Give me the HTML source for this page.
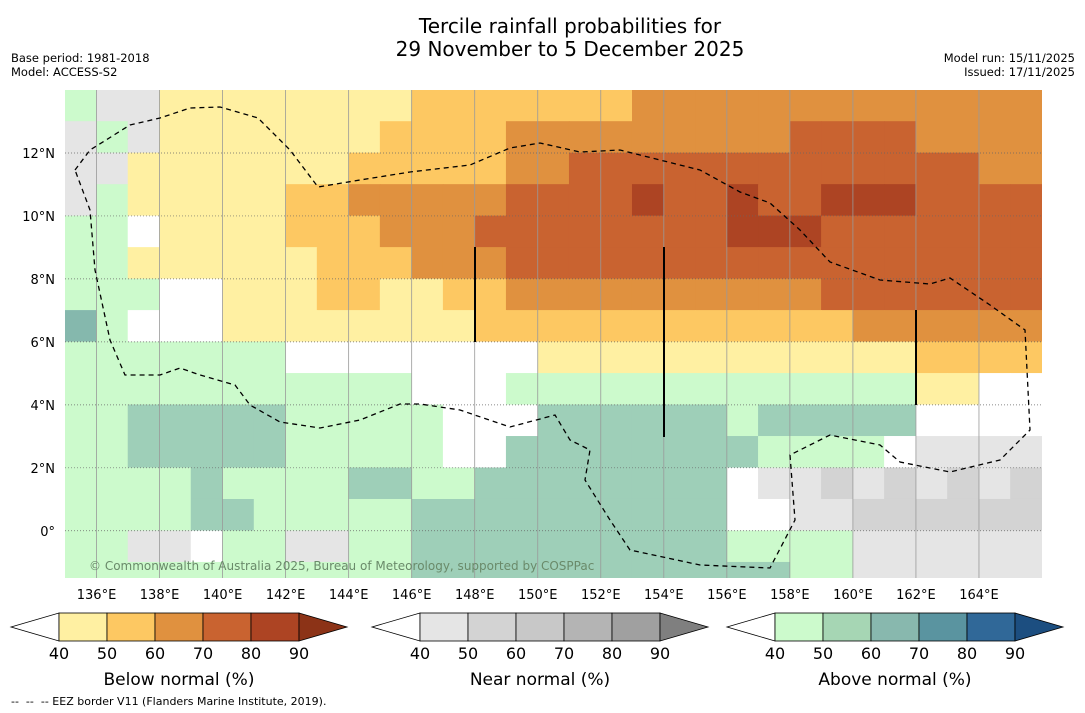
<!DOCTYPE html>
<html><head><meta charset="utf-8"><style>
body{margin:0;background:#fff;font-family:"DejaVu Sans","Liberation Sans",sans-serif}
#wrap{position:relative;width:1085px;height:713px;overflow:hidden;background:#fff}
.t{position:absolute;font-size:12px;color:#000;white-space:nowrap}
svg text{font-family:"DejaVu Sans","Liberation Sans",sans-serif}
</style></head><body>
<div id="wrap">
<div class="t" style="left:0;width:1140px;text-align:center;top:15px;font-size:20px;line-height:23px">Tercile rainfall probabilities for<br>29 November to 5 December 2025</div>
<div class="t" style="left:11px;top:51px;font-size:11.5px">Base period: 1981-2018<br>Model: ACCESS-S2</div>
<div class="t" style="right:10px;top:51px;text-align:right;font-size:11.5px">Model run: 15/11/2025<br>Issued: 17/11/2025</div>
<svg id="svg" width="1085" height="713" style="position:absolute;left:0;top:0"></svg>
<div class="t" style="left:11px;top:695px;font-size:11px">-- &nbsp;-- &nbsp;-- EEZ border V11 (Flanders Marine Institute, 2019).</div>
</div>
<script>
const lons=[135,136,137,138,139,140,141,142,143,144,145,146,147,148,149,150,151,152,153,154,155,156,157,158,159,160,161,162,163,164,165];
const lats=[13,12,11,10,9,8,7,6,5,4,3,2,1,0,-1,-2];
const rows=[
"pggaaaaaaaabbbbbbbccccccccccccc",
"gpgaaaaaaabbbbcccccccccddddcccc",
"ggaaaaaaabbbbbccdddddddddddddcc",
"gpaaaaabbcccccddddeddeddeeedddd",
"ppwaaaabbbcccddddddddeeeddddddd",
"ppaaaaaabbbcccddddddddddddddddd",
"pppwwaaabbaabbccccccccccddddddd",
"rpwwwaaaaaaaabbbbbbbbbbbbcccccc",
"pppppppwwwwwwwwaaaaaaaaaaaabbbb",
"pppppppppppwwwpppppppppppppaaww",
"ppqqqqqpppppwwwqqqqqqpqqqqqwwww",
"ppqqqqqpppppwwqqqqqqqqppppwgggg",
"ppppqppppqqppqqqqqqqqwgghghghgh",
"ppppqqpppppqqqqqqqqqqwwgghhhhhh",
"ppggwppggppqqqqqqqqqqppppgggggg",
"pppppppppppqqqqqqqqqqqqppgggggg"];
const catColor={a:'#fff0a2',b:'#fdc862',c:'#e0913f',d:'#c96330',e:'#ad4423',g:'#e5e5e5',h:'#d3d3d3',p:'#ccfacc',q:'#9ecfb8',r:'#85b8ad',s:'#5a94a0',w:'#ffffff'};
const xTicks=[136,138,140,142,144,146,148,150,152,154,156,158,160,162,164];
const yTicks=[12,10,8,6,4,2,0];
const cb1=['#fff0a2','#fdc862','#e0913f','#c96330','#ad4423'];
const cb2=['#e5e5e5','#d3d3d3','#c8c8c8','#b4b4b4','#a0a0a0'];
const cb3=['#ccfacc','#a6d6b4','#88b8ae','#5a94a0','#306898'];
const cbLabels=[40,50,60,70,80,90];
const X0=65,X1=1042,Y0=90,Y1=578;
const lon2x=l=>X0+(l-135)*(X1-X0)/31;
const lat2y=l=>Y0+(14-l)*(Y1-Y0)/15.5;
const NS='http://www.w3.org/2000/svg';
const svg=document.getElementById('svg');
function mk(t,a,p){const e=document.createElementNS(NS,t);for(const k in a)e.setAttribute(k,a[k]);(p||svg).appendChild(e);return e;}
const defs=mk('defs',{});const cp=mk('clipPath',{id:'cp'},defs);mk('rect',{x:X0,y:Y0,width:X1-X0,height:Y1-Y0},cp);
const g=mk('g',{'clip-path':'url(#cp)'});


lats.forEach((la,i)=>{const r=rows[i];lons.forEach((lo,j)=>{const c=r[j]||'w';
const e=mk('rect',{x:lon2x(lo)-0.3,y:lat2y(la+1)-0.3,width:lon2x(lo+1)-lon2x(lo)+0.6,height:lat2y(la)-lat2y(la+1)+0.6,fill:catColor[c]},g);

});});
xTicks.forEach(t=>{const x=lon2x(t);
const l=mk('line',{x1:x,x2:x,y1:Y0,y2:Y1,stroke:'#999','stroke-width':0.8});

const tx=mk('text',{x:x,y:599,'text-anchor':'middle','font-size':13,fill:'#000'});tx.textContent=t+'°E';
});
yTicks.forEach(t=>{const y=lat2y(t);
const l=mk('line',{x1:X0,x2:X1,y1:y,y2:y,stroke:'#666','stroke-width':0.7,'stroke-dasharray':'1,2'});

const tx=mk('text',{x:55,y:y+5,'text-anchor':'end','font-size':13,fill:'#000'});tx.textContent=t===0?'0°':t+'°N';
});
const eez=mk('path',{d:'M75,170 L90,150 130,125 160,118 190,108 220,107 258,118 290,150 318,187 360,180 410,172 470,165 510,148 540,143 580,152 620,150 660,160 700,170 740,192 770,203 800,230 830,262 880,280 930,284 950,278 990,305 1025,330 1030,430 1000,460 950,472 900,462 880,445 830,435 790,455 795,520 770,568 700,565 630,550 610,520 585,480 590,450 570,440 555,415 510,427 460,410 420,404 400,404 360,420 320,428 280,422 250,405 235,385 200,375 180,368 160,375 125,375 110,340 95,270 90,210 Z',fill:'none',stroke:'#000','stroke-width':1.3,'stroke-dasharray':'5,4'});

[[475,247,342],[664,247,437],[916,310,405]].forEach(v=>{const l=mk('line',{x1:v[0],x2:v[0],y1:v[1],y2:v[2],stroke:'#000','stroke-width':2});
});
const cr=mk('text',{x:89,y:570,'font-size':12,fill:'#6a8a6a'});cr.textContent='© Commonwealth of Australia 2025, Bureau of Meteorology, supported by COSPPac';

function colorbar(x0,cols,tri,title,name){const w=48,y=613,h=28;
mk('polygon',{points:`${x0-w},${y+h/2} ${x0},${y} ${x0},${y+h}`,fill:'#fff',stroke:'#000','stroke-width':0.8});
cols.forEach((c,i)=>{const r=mk('rect',{x:x0+i*w,y:y,width:w,height:h,fill:c,stroke:'#000','stroke-width':0.8});
});
const xe=x0+cols.length*w;
mk('polygon',{points:`${xe},${y} ${xe+w},${y+h/2} ${xe},${y+h}`,fill:tri,stroke:'#000','stroke-width':0.8});
cbLabels.forEach((v,i)=>{const t=mk('text',{x:x0+i*w,y:659,'text-anchor':'middle','font-size':16});t.textContent=v;
});
const t=mk('text',{x:x0+120,y:685,'text-anchor':'middle','font-size':17});t.textContent=title;
}
colorbar(59,cb1,'#8c3317','Below normal (%)','below-colorbar');
colorbar(420,cb2,'#7f7f7f','Near normal (%)','near-colorbar');
colorbar(775,cb3,'#1c4e80','Above normal (%)','above-colorbar');
</script>
</body></html>
